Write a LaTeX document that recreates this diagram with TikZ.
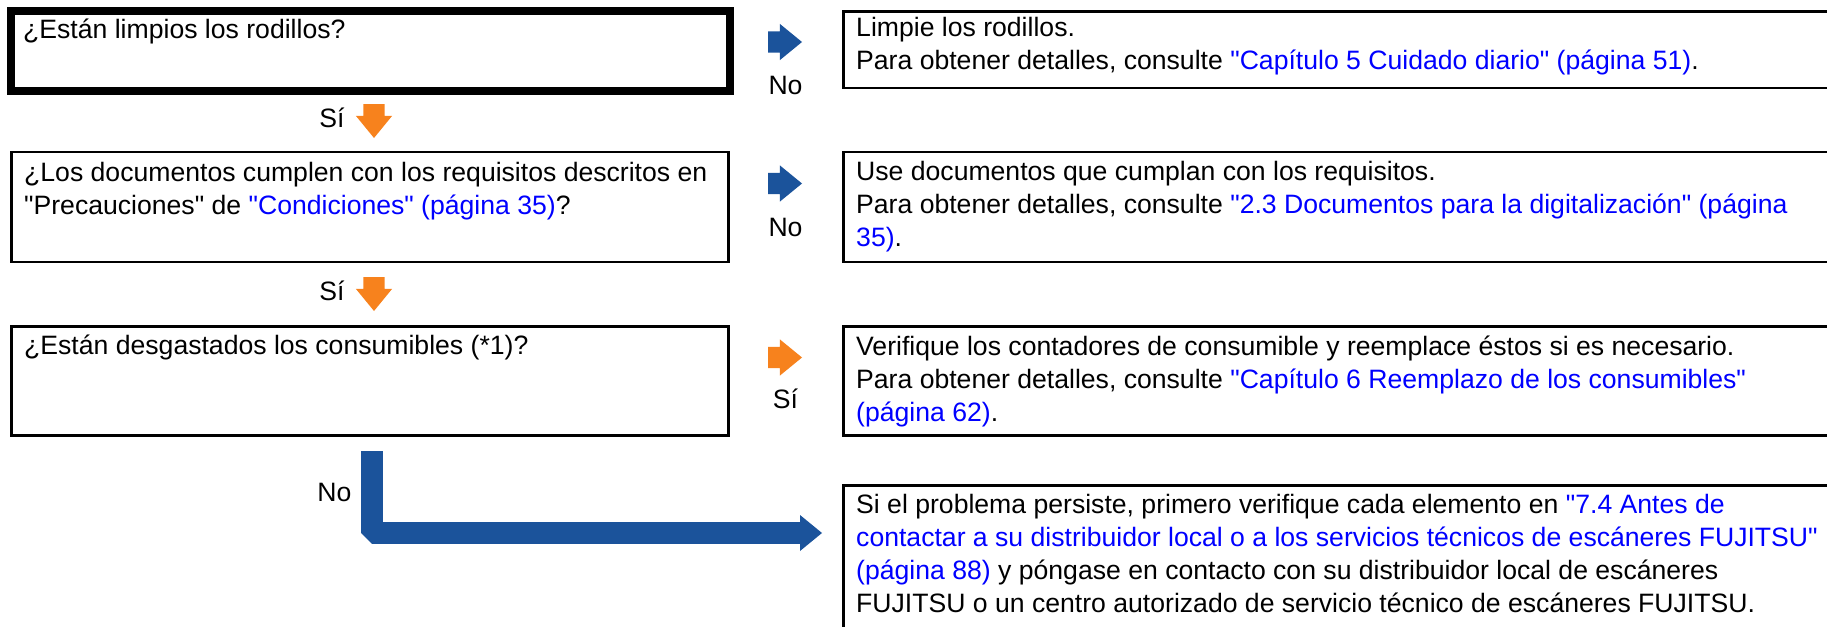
\documentclass[tikz,border=0pt]{standalone}
\usepackage{fontspec}
\setmainfont{Liberation Sans}[Ligatures=TeXOff]
\usetikzlibrary{shapes.arrows,arrows.meta,calc}
\definecolor{fjblue}{RGB}{27,83,155}
\definecolor{fjorange}{RGB}{247,130,29}
\definecolor{linkblue}{RGB}{0,0,255}
\newcommand{\lnk}[1]{\textcolor{linkblue}{#1}}
\begin{document}
\begin{tikzpicture}[x=1pt,y=-1pt,
  font=\fontsize{26.6}{33}\selectfont,
  qbox/.style={draw, rectangle, line width=2.6pt, inner sep=0pt, outer sep=0pt, anchor=north west},
  thickbox/.style={qbox, line width=8.3pt},
  txt/.style={anchor=base west, inner sep=0pt},
  lbl/.style={anchor=base, inner sep=0pt},
  rarrow/.style={single arrow, draw=none, minimum height=34pt, minimum width=36pt,
    inner xsep=0pt, inner ysep=10.5pt, outer sep=0pt, single arrow head extend=7.5pt,
    single arrow tip angle=78.6, anchor=tail},
  darrow/.style={rarrow, rotate=-90},
  elbow/.style={draw=fjblue, line width=21.6pt, line join=bevel,
    -{Triangle[length=22pt,width=36pt,line width=0pt]}}
]
\useasboundingbox (0,0) rectangle (1827,626);

% left question boxes
\node[thickbox, minimum width=719.1pt, minimum height=80pt] (b1) at (10.75,10.85) {};
\node[qbox, minimum width=717pt, minimum height=110pt] (b2) at (11.2,152) {};
\node[qbox, minimum width=717pt, minimum height=109.1pt] (b3) at (11.2,326.3) {};

% right answer boxes
\node[qbox, minimum width=1000pt, minimum height=76.7pt] (r1) at (843.5,11.3) {};
\node[qbox, minimum width=1000pt, minimum height=110pt] (r2) at (843.5,152) {};
\node[qbox, minimum width=1000pt, minimum height=109.1pt] (r3) at (843.5,326.3) {};
\node[qbox, minimum width=1000pt, minimum height=200pt] (r4) at (843.5,485.6) {};

% texts
\node[txt] (t1) at (23,39) {¿Están limpios los rodillos?};
\node[txt] (t2) at (24,181) {\vtop{\hbox{¿Los documentos cumplen con los requisitos descritos en}
  \hbox{"Precauciones" de \lnk{"Condiciones" (página 35)}?}}};
\node[txt] (t3) at (24,354.5) {¿Están desgastados los consumibles (*1)?};

\node[txt] (tr1) at (856,37) {\vtop{\hbox{Limpie los rodillos.}
  \hbox{Para obtener detalles, consulte \lnk{"Capítulo 5 Cuidado diario" (página 51)}.}}};
\node[txt] (tr2) at (856,180.2) {\vtop{\hbox{Use documentos que cumplan con los requisitos.}
  \hbox{Para obtener detalles, consulte \lnk{"2.3 Documentos para la digitalización" (página}}
  \hbox{\lnk{35)}.}}};
\node[txt] (tr3) at (856,355) {\vtop{\hbox{Verifique los contadores de consumible y reemplace éstos si es necesario.}
  \hbox{Para obtener detalles, consulte \lnk{"Capítulo 6 Reemplazo de los consumibles"}}
  \hbox{\lnk{(página 62)}.}}};
\node[txt] (tr4) at (856,513.8) {\vtop{\hbox{Si el problema persiste, primero verifique cada elemento en \lnk{"7.4 Antes de}}
  \hbox{\lnk{contactar a su distribuidor local o a los servicios técnicos de escáneres FUJITSU"}}
  \hbox{\lnk{(página 88)} y póngase en contacto con su distribuidor local de escáneres}
  \hbox{FUJITSU o un centro autorizado de servicio técnico de escáneres FUJITSU.}}};

% block arrows
\node[rarrow, fill=fjblue] (a1) at (768,42) {};
\node[rarrow, fill=fjblue] (a2) at (768,183.5) {};
\node[rarrow, fill=fjorange] (a3) at (768,357.5) {};
\node[darrow, fill=fjorange] (d1) at (374,104) {};
\node[darrow, fill=fjorange] (d2) at (374,277) {};

% labels
\node[lbl] (n1) at (785.5,94) {No};
\node[lbl] (n2) at (785.5,236.5) {No};
\node[lbl] (s3) at (785.5,408) {Sí};
\node[lbl] (s1) at (332,127) {Sí};
\node[lbl] (s2) at (332,300) {Sí};
\node[lbl] (n4) at (334.4,501.7) {No};

% elbow connector
\coordinate (e0) at ($(b3.south west)+(360.8,15.6)$);
\coordinate (e1) at ($(r4.north west)+(-21.5,47.4)$);
\draw[elbow] (e0) |- (e1);
\end{tikzpicture}
\end{document}
